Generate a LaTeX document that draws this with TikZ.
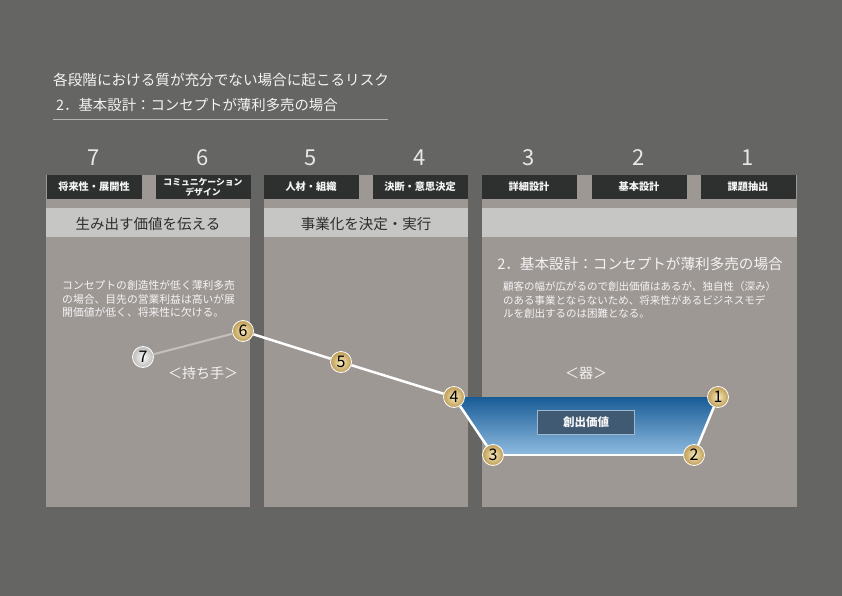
\documentclass[tikz,border=0pt]{standalone}
\usepackage{fontspec}
\setmainfont{Noto Sans CJK JP}
\usepackage{xcolor}
\definecolor{bgcolor}{RGB}{101,101,100}
\definecolor{panelcolor}{RGB}{158,152,149}
\definecolor{bandcolor}{RGB}{198,198,196}
\definecolor{headcolor}{RGB}{46,48,48}
\definecolor{textcolor}{RGB}{244,244,244}
\definecolor{darktext}{RGB}{45,45,45}
\definecolor{numcolor}{RGB}{232,232,232}
\definecolor{rulecolor}{RGB}{180,180,178}
\definecolor{goldin}{RGB}{248,234,188}
\definecolor{goldout}{RGB}{190,156,84}
\definecolor{grayin}{RGB}{250,250,250}
\definecolor{grayout}{RGB}{190,188,186}
\definecolor{handlecolor}{RGB}{196,192,189}
\definecolor{bluetop}{RGB}{24,92,150}
\definecolor{bluebot}{RGB}{144,188,224}
\definecolor{labelcolor}{RGB}{64,90,116}
\definecolor{labelline}{RGB}{160,184,204}
\usepackage{tikz}
\usetikzlibrary{positioning}

\begin{document}
\begin{tikzpicture}[x=1pt, y=-1pt,
  every node/.style={color=textcolor, inner sep=0pt, font=\fontsize{10.8}{13.5}\selectfont},
  headbox/.style={fill=headcolor, minimum width=95pt, minimum height=24pt, align=center, font=\bfseries\fontsize{10.2}{11}\selectfont},
  stagenum/.style={color=numcolor, font=\fontsize{22}{22}\selectfont},
  bandtext/.style={color=darktext, font=\fontsize{14.5}{15}\selectfont},
  ball/.style={circle, minimum size=21pt, draw=white, line width=0.8pt, text=black, font=\fontsize{16}{16}\selectfont},
  goldball/.style={ball, inner color=goldin, outer color=goldout},
  grayball/.style={ball, inner color=grayin, outer color=grayout},
  whiteline/.style={white, line width=2.5pt}]
  \useasboundingbox (0,0) rectangle (842,596);
  \fill[bgcolor] (0,0) rectangle (842,596);

  % title
  \node[anchor=west, font=\fontsize{14.6}{15}\selectfont] (title) at (53,80) {各段階における質が充分でない場合に起こるリスク};
  \node[anchor=west, font=\fontsize{14.4}{15}\selectfont] (subtitle) at (56,105) {2．基本設計：コンセプトが薄利多売の場合};
  \draw[rulecolor, line width=1pt] (53,120) -- (388,120);

  % panels and bands
  \fill[panelcolor] (46,175) rectangle (250,507);
  \fill[panelcolor] (264,175) rectangle (468,507);
  \fill[panelcolor] (482,175) rectangle (797,507);
  \fill[bandcolor] (46,208) rectangle (250,237);
  \fill[bandcolor] (264,208) rectangle (468,237);
  \fill[bandcolor] (482,208) rectangle (797,237);
  \node[bandtext] (band1) at (148,224) {生み出す価値を伝える};
  \node[bandtext] (band2) at (366,224) {事業化を決定・実行};

  % stage headers
  \node[headbox] (h7) at (94,187) {将来性・展開性};
  \node[headbox, font=\bfseries\fontsize{8.8}{10}\selectfont] (h6) at (203,187) {コミュニケーション\\デザイン};
  \node[headbox] (h5) at (311,187) {人材・組織};
  \node[headbox] (h4) at (420,187) {決断・意思決定};
  \node[headbox] (h3) at (529,187) {詳細設計};
  \node[headbox] (h2) at (639,187) {基本設計};
  \node[headbox] (h1) at (748,187) {課題抽出};
  \foreach \n in {1,...,7}
    \node[stagenum, above=9pt of h\n] (n\n) {\n};

  % explanations
  \node[anchor=north west, align=left] (lefttext) at (62,280.6)
    {コンセプトの創造性が低く薄利多売\\の場合、目先の営業利益は高いが展\\開価値が低く、将来性に欠ける。};
  \node[font=\fontsize{14.6}{16}\selectfont] (righthead) at (640,264) {2．基本設計：コンセプトが薄利多売の場合};
  \node[anchor=north west, align=left, font=\fontsize{10.5}{13.5}\selectfont] (righttext) at (503,281.8)
    {顧客の幅が広がるので創出価値はあるが、独自性（深み）\\のある事業とならないため、将来性があるビジネスモデ\\ルを創出するのは困難となる。};
  \node[font=\fontsize{14}{14}\selectfont] (handle) at (203,373) {＜持ち手＞};
  \node[font=\fontsize{14}{14}\selectfont] (vessel) at (586,373) {＜器＞};

  % value curve
  \coordinate (p1) at (718,397);
  \coordinate (p2) at (694,455);
  \coordinate (p3) at (493,455);
  \coordinate (p4) at (454,397);
  \shade[top color=bluetop, bottom color=bluebot] (p4) -- (p1) -- (p2) -- (p3) -- cycle;
  \node[fill=labelcolor, draw=labelline, line width=0.6pt, minimum width=97pt, minimum height=24pt,
    font=\bfseries\fontsize{11.5}{12}\selectfont] (value) at (586,422) {創出価値};

  \node[grayball] (c7) at (143,357) {7};
  \node[goldball] (c6) at (243,331) {6};
  \node[goldball] (c5) at (341,362) {5};
  \node[goldball] (c4) at (p4) {4};
  \node[goldball] (c3) at (p3) {3};
  \node[goldball] (c2) at (p2) {2};
  \node[goldball] (c1) at (p1) {1};
  \draw[handlecolor, line width=2pt] (c7) -- (c6);
  \draw[whiteline] (c6) -- (c5);
  \draw[whiteline] (c5) -- (c4);
  \draw[whiteline] (c4) -- (c3);
  \draw[whiteline] (c3) -- (c2);
  \draw[whiteline] (c2) -- (c1);
\end{tikzpicture}
\end{document}
